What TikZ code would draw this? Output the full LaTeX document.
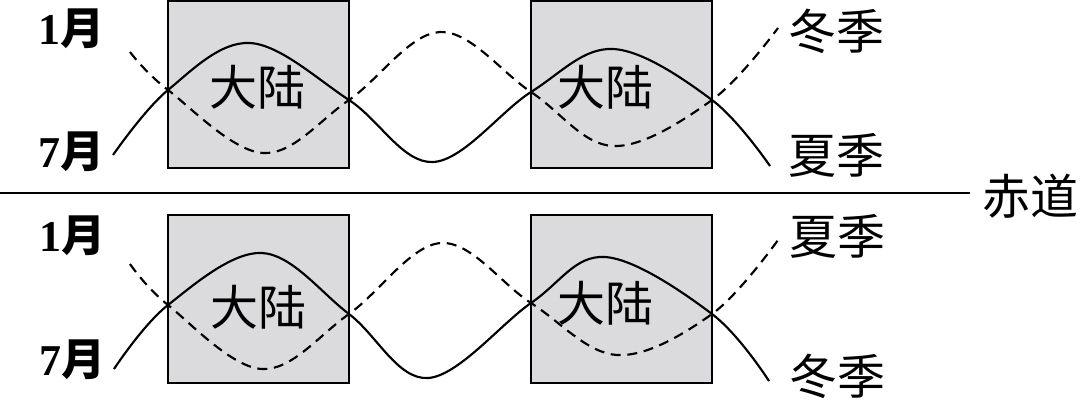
\documentclass[tikz,border=0pt]{standalone}
\usepackage{fontspec}
\newfontfamily\cjk{Noto Sans CJK SC}
\newfontfamily\numf{Liberation Serif}
\definecolor{landgray}{RGB}{219,218,220}
\begin{document}
\begin{tikzpicture}[x=0.75pt,y=-0.75pt,
  land/.style={draw=black,line width=1.7pt,fill=landgray,minimum width=181*0.75pt,minimum height=167*0.75pt,inner sep=0pt},
  lbl/.style={font=\cjk\fontsize{36}{36}\selectfont,inner sep=0pt},
  mlbl/.style={font=\fontsize{33}{33}\selectfont,inner sep=0pt},
  july/.style={line width=1.6pt},
  jan/.style={line width=1.6pt,dash pattern=on 7.5pt off 5pt}]
\useasboundingbox (0,0) rectangle (1080,401);
% equator
\coordinate (eqL) at (0,193);
\coordinate (eqR) at (970,193);
\draw[line width=1.6pt] (eqL) -- (eqR);
\node[lbl] (eq) at (1030,196) {赤道};

% ---------- top half ----------
\node[land] (c1) at (258.5,84.5) {};
\node[land] (c2) at (621.5,84.5) {};
\node[lbl] at (257,87) {大陆};
\node[lbl] at (605,87) {大陆};
\draw[july] plot[smooth,tension=0.6] coordinates {(113,155) (168,90) (250,43) (349,100) (433,162) (531,92) (613,49) (712,100) (770,166)};
\draw[jan] plot[smooth,tension=0.6] coordinates {(130,52) (168,90) (263,153) (349,100) (440,32) (531,92) (613,146) (712,100) (778,28)};
\node[mlbl] (t1) at (71,29) {\textbf{\numf 1}{\cjk\bfseries 月}};
\node[mlbl] (t7) at (71,152) {\textbf{\numf 7}{\cjk\bfseries 月}};
\node[lbl] (tw) at (836,31) {冬季};
\node[lbl] (ts) at (836,155) {夏季};

% ---------- bottom half ----------
\node[land,minimum height=168*0.75pt] (c3) at (258.5,299) {};
\node[land,minimum height=168*0.75pt] (c4) at (621.5,299) {};
\node[lbl] at (258,307) {大陆};
\node[lbl] at (605,303) {大陆};
\draw[july] plot[smooth,tension=0.6] coordinates {(114,369) (168,305) (262,253) (349,314) (428,378) (531,303) (605,257) (712,314) (769,381)};
\draw[jan] plot[smooth,tension=0.6] coordinates {(130,264) (168,305) (262,369) (349,314) (441,243) (531,303) (617,355) (712,314) (778,240)};
\node[mlbl] (b1) at (72,236) {\textbf{\numf 1}{\cjk\bfseries 月}};
\node[mlbl] (b7) at (72,360) {\textbf{\numf 7}{\cjk\bfseries 月}};
\node[lbl] (bs) at (837,236) {夏季};
\node[lbl] (bw) at (837,376) {冬季};
\end{tikzpicture}
\end{document}
